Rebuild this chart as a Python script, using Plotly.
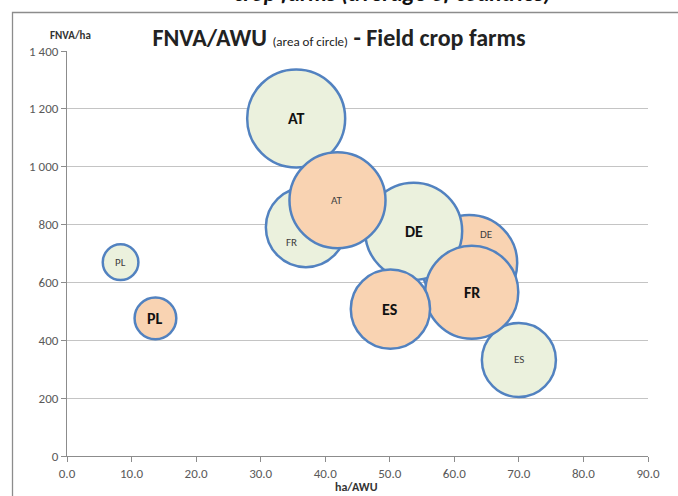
import plotly.graph_objects as go

# Countries and the two farm groups (hatched = group A, solid = group B)
countries = ["AT", "DE", "ES", "FR", "PL"]

# Group A: ha/AWU, FNVA/ha and FNVA/AWU (bubble area)
ha_awu_a = [35.5, 53.7, 70.0, 37.0, 8.3]
fnva_ha_a = [1167, 777, 332, 791, 670]
fnva_awu_a = [40800, 40000, 23300, 27200, 5400]
bold_a = [True, True, False, False, False]

# Group B
ha_awu_b = [41.9, 62.3, 50.1, 62.7, 13.7]
fnva_ha_b = [884, 667, 508, 566, 476]
fnva_awu_b = [39200, 39200, 26700, 36800, 7400]
bold_b = [False, False, True, True, True]

FILL_A = "#ebf1dd"
FILL_B = "#f9d3b2"
OUTLINE = "#5282c0"
FONT = "Carlito, Calibri, 'Liberation Sans Narrow', 'Open Sans', sans-serif"
SIZEREF = 8.5

# drawing order: B's DE sits under everything, then group A, then the rest of B
order = [("B", 1)] + [("A", i) for i in range(5)] + [("B", i) for i in (0, 3, 2, 4)]

xs, ys, ss, cols, labels = [], [], [], [], []
for grp, i in order:
    if grp == "A":
        xs.append(ha_awu_a[i]); ys.append(fnva_ha_a[i]); ss.append(fnva_awu_a[i])
        cols.append(FILL_A); labels.append((countries[i], bold_a[i], grp))
    else:
        xs.append(ha_awu_b[i]); ys.append(fnva_ha_b[i]); ss.append(fnva_awu_b[i])
        cols.append(FILL_B); labels.append((countries[i], bold_b[i], grp))

fig = go.Figure()
fig.add_trace(go.Scatter(
    x=xs, y=ys, mode="markers",
    marker=dict(size=ss, sizemode="area", sizeref=SIZEREF, color=cols,
                opacity=1, line=dict(color=OUTLINE, width=2.5)),
    hoverinfo="skip", showlegend=False,
))

# labels that were nudged to stay visible where bubbles overlap (pixels)
nudges = {("A", "FR"): (-14, -15), ("B", "DE"): (17, 29)}

annotations = []
for (name, is_bold, grp), x, y in zip(labels, xs, ys):
    dx, dy = nudges.get((grp, name), (0, 0))
    annotations.append(dict(
        x=x, y=y, xref="x", yref="y", showarrow=False,
        text=f"<b>{name}</b>" if is_bold else name,
        font=dict(family=FONT, size=16 if is_bold else 11,
                  color="#111111" if is_bold else "#404040"),
        xshift=dx, yshift=dy,
    ))

annotations += [
    dict(x=-0.033, y=1.06, xref="paper", yref="paper", showarrow=False,
         text="<b>FNVA/ha</b>", font=dict(family=FONT, size=11, color="#333333")),
    dict(x=0.499, y=-0.098, xref="paper", yref="paper", showarrow=False,
         text="<b>ha/AWU</b>", font=dict(family=FONT, size=12, color="#333333")),
    dict(x=0.56, y=1.104, xref="paper", yref="paper", showarrow=False,
         yanchor="bottom",
         text="<b><i>crop farms (average of countries)</i></b>",
         font=dict(family=FONT, size=23, color="#111111")),
]

tick_font = dict(family=FONT, size=13, color="#595959")

fig.update_layout(
    width=678, height=496,
    margin=dict(l=67, r=30, t=51, b=40),
    paper_bgcolor="white", plot_bgcolor="white",
    separators=". ",
    font=dict(family=FONT, size=12, color="#595959"),
    title=dict(
        text="<b>FNVA/AWU</b> <span style='font-size:13px'>(area of circle)</span> <b>- Field crop farms</b>",
        x=0.5, xanchor="center", y=0.925, yanchor="middle",
        font=dict(family=FONT, size=24, color="#222222"),
    ),
    xaxis=dict(range=[0, 90], dtick=10, tick0=0, tickformat=".1f",
               tickfont=tick_font,
               showgrid=False, zeroline=False, showline=True,
               linecolor="#8c8c8c", linewidth=1, ticks="outside",
               ticklen=5, tickcolor="#8c8c8c"),
    yaxis=dict(range=[0, 1400], dtick=200, tick0=0, tickformat=",.0f",
               tickfont=tick_font,
               showgrid=True, gridcolor="#c4c4c4", gridwidth=1,
               zeroline=False, showline=True, linecolor="#8c8c8c",
               linewidth=1, ticks="outside", ticklen=5, tickcolor="#8c8c8c"),
    annotations=annotations,
    shapes=[dict(type="rect", xref="paper", yref="paper",
                 x0=-0.0938, x1=1.2, y0=-0.3, y1=1.0951,
                 line=dict(color="#8c8c8c", width=1.3), layer="below")],
)

fig.write_html("out.html")
